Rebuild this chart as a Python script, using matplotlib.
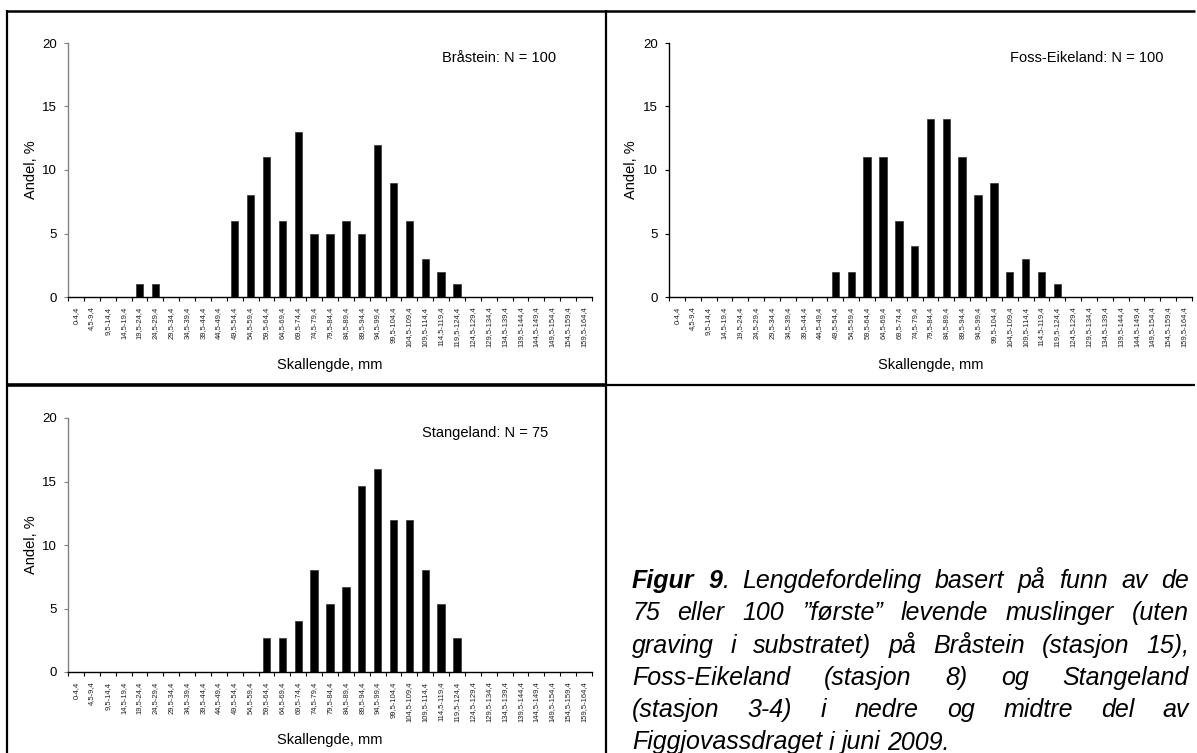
import matplotlib
matplotlib.use("Agg")
import matplotlib.pyplot as plt
from matplotlib.lines import Line2D

plt.rcParams['font.family'] = ['Liberation Sans', 'DejaVu Sans']

# length classes (mm)
size_classes = ["0-4,4", "4,5-9,4", "9,5-14,4", "14,5-19,4", "19,5-24,4", "24,5-29,4",
                "29,5-34,4", "34,5-39,4", "39,5-44,4", "44,5-49,4", "49,5-54,4", "54,5-59,4",
                "59,5-64,4", "64,5-69,4", "69,5-74,4", "74,5-79,4", "79,5-84,4", "84,5-89,4",
                "89,5-94,4", "94,5-99,4", "99,5-104,4", "104,5-109,4", "109,5-114,4",
                "114,5-119,4", "119,5-124,4", "124,5-129,4", "129,5-134,4", "134,5-139,4",
                "139,5-144,4", "144,5-149,4", "149,5-154,4", "154,5-159,4", "159,5-164,4"]

# share (%) per class
brastein = [0, 0, 0, 0, 1, 1, 0, 0, 0, 0, 6, 8, 11, 6, 13, 5, 5, 6, 5, 12, 9, 6, 3, 2, 1,
            0, 0, 0, 0, 0, 0, 0, 0]
foss_eikeland = [0, 0, 0, 0, 0, 0, 0, 0, 0, 0, 2, 2, 11, 11, 6, 4, 14, 14, 11, 8, 9, 2, 3, 2, 1,
                 0, 0, 0, 0, 0, 0, 0, 0]
stangeland = [0, 0, 0, 0, 0, 0, 0, 0, 0, 0, 0, 0, 2.67, 2.67, 4.0, 8.0, 5.33, 6.67, 14.67,
              16.0, 12.0, 12.0, 8.0, 5.33, 2.67, 0, 0, 0, 0, 0, 0, 0, 0]

notes = ["Bråstein: N = 100", "Foss-Eikeland: N = 100", "Stangeland: N = 75"]

W, H = 1197, 753
fig = plt.figure(figsize=(W / 100, H / 100), dpi=100)
lab_size = 10.5


def draw_panel(rect, values, note, note_x, axis_color, ylab_x):
    ax = fig.add_axes(rect)
    x = list(range(len(values)))
    ax.bar(x, values, width=0.47, color='black', edgecolor='#333333', linewidth=0.5)
    ax.set_xlim(-0.5, len(values) - 0.5)
    ax.set_ylim(0, 20)
    ax.set_yticks([0, 5, 10, 15, 20])
    ax.set_xticks(x)
    ax.set_xticklabels(size_classes, rotation=90, fontsize=5.5, color='#222222')
    ax.set_xticks([i - 0.5 for i in range(len(values) + 1)], minor=True)
    ax.tick_params(axis='x', which='major', length=0, pad=7)
    ax.tick_params(axis='x', which='minor', length=3, width=0.8, direction='out')
    ax.tick_params(axis='y', length=3, width=0.8, labelsize=9.5, pad=5, color=axis_color)
    for s in ['top', 'right']:
        ax.spines[s].set_visible(False)
    ax.spines['left'].set_color(axis_color)
    ax.spines['left'].set_linewidth(1.0)
    ax.spines['bottom'].set_linewidth(1.0)
    ax.set_ylabel("Andel, %", fontsize=lab_size)
    ax.yaxis.set_label_coords(ylab_x, 0.5)
    ax.text(0.5, -0.268, "Skallengde, mm", fontsize=lab_size, ha='center', va='center',
            transform=ax.transAxes)
    ax.text(note_x, 0.94, note, fontsize=lab_size, ha='right', va='center', transform=ax.transAxes)
    return ax


draw_panel([68 / W, 1 - 297 / H, 524 / W, 254 / H], brastein, notes[0], 0.931, '#808080', -0.057)
draw_panel([669 / W, 1 - 297 / H, 523 / W, 254 / H], foss_eikeland, notes[1], 0.945, 'black', -0.059)
draw_panel([68 / W, 1 - 672 / H, 524 / W, 254 / H], stangeland, notes[2], 0.916, '#808080', -0.057)


# frame lines between the panels (pixel coords)
def frame_line(x0, y0, x1, y1, lw):
    fig.add_artist(Line2D([x0 / W, x1 / W], [1 - y0 / H, 1 - y1 / H],
                          transform=fig.transFigure, color='black', lw=lw,
                          solid_capstyle='butt'))


frame_line(6, 11, 1195, 11, 1.8)
frame_line(7, 10, 7, 753, 1.6)
frame_line(606, 10, 606, 753, 1.6)
frame_line(6, 385, 606, 385, 2.6)
frame_line(606, 385, 1195, 385, 1.6)

# caption, justified
caption = [
    [[("Figur", 'bold')], [("9", 'bold'), (".", 'normal')], [("Lengdefordeling", 'normal')],
     [("basert", 'normal')], [("på", 'normal')], [("funn", 'normal')], [("av", 'normal')],
     [("de", 'normal')]],
    "75 eller 100 ”første” levende muslinger (uten",
    "graving i substratet) på Bråstein (stasjon 15),",
    "Foss-Eikeland (stasjon 8) og Stangeland",
    "(stasjon 3-4) i nedre og midtre del av",
    "Figgjovassdraget i juni 2009.",
]
cap_x0, cap_x1 = 632, 1189
cap_y0, cap_dy = 588, 32.3
cap_size = 18

renderer = fig.canvas.get_renderer()
for i, line in enumerate(caption):
    if isinstance(line, str):
        words = [[(w, 'normal')] for w in line.split()]
    else:
        words = line
    y = 1 - (cap_y0 + i * cap_dy) / H
    placed = []
    for segs in words:
        parts = []
        wsum = 0
        for s, weight in segs:
            t = fig.text(0, y, s, fontsize=cap_size, style='italic', weight=weight,
                         ha='left', va='baseline', color='black')
            w = t.get_window_extent(renderer).width
            parts.append((t, wsum))
            wsum += w
        placed.append((parts, wsum))
    total = sum(p[1] for p in placed)
    if i < len(caption) - 1:
        gap = (cap_x1 - cap_x0 - total) / (len(placed) - 1)
    else:
        gap = cap_size * 0.278 * 100 / 72
    xpos = cap_x0
    for parts, wsum in placed:
        for t, off in parts:
            t.set_x((xpos + off) / W)
        xpos += wsum + gap

fig.savefig("out.png", dpi=100)
